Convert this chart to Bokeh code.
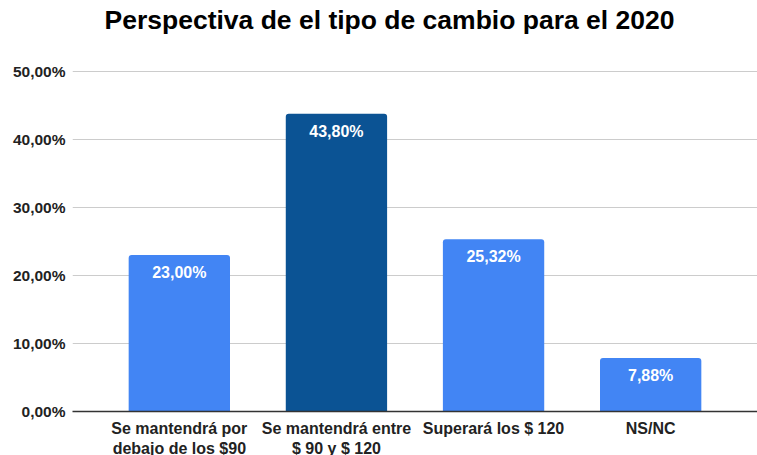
from bokeh.plotting import figure
from bokeh.models import FactorRange, Range1d, FixedTicker, ColumnDataSource, Title
from bokeh.core.properties import value
from bokeh.embed import file_html
from bokeh.resources import INLINE

title_text = "Perspectiva de el tipo de cambio para el 2020"
categories = ["Se mantendrá por\ndebajo de los $90", "Se mantendrá entre\n$ 90 y $ 120",
              "Superará los $ 120", "NS/NC"]
values = [23.00, 43.80, 25.32, 7.88]
bar_labels = ["23,00%", "43,80%", "25,32%", "7,88%"]
colors = ["#4285F4", "#0B5394", "#4285F4", "#4285F4"]
y_ticks = [0, 10, 20, 30, 40, 50]
y_tick_labels = ["0,00%", "10,00%", "20,00%", "30,00%", "40,00%", "50,00%"]

src = ColumnDataSource(dict(cat=categories, val=values, lab=bar_labels, col=colors))

p = figure(width=757, height=459, output_backend="svg", toolbar_location=None, title=None,
           x_range=FactorRange(factors=categories, range_padding=0.18,
                               range_padding_units="absolute"),
           y_range=Range1d(0, 50.3),
           min_border_left=0, min_border_right=0, min_border_top=0, min_border_bottom=40)

# spacer panel (closest to the frame), then the real title above it
p.add_layout(Title(text=" ", text_font_size="10px", standoff=16), "above")
p.add_layout(Title(text=title_text, align="left", offset=32, vertical_align="top",
                   text_font="Liberation Sans", text_font_size="26.5px",
                   text_font_style="bold", text_color="#000000", standoff=8), "above")

p.vbar(x="cat", top="val", width=0.645, fill_color="col", line_color=None,
       border_radius=(3, 3, 0, 0), source=src)
p.text(x="cat", y="val", text="lab", source=src, text_align="center",
       text_baseline="top", y_offset=9, text_color="white",
       text_font=value("Liberation Sans"), text_font_size="16px", text_font_style="bold")

p.outline_line_color = None
p.xgrid.grid_line_color = None
p.ygrid.grid_line_color = "#cccccc"
p.ygrid.ticker = FixedTicker(ticks=y_ticks)
p.yaxis.ticker = FixedTicker(ticks=y_ticks)
p.yaxis.major_label_overrides = {t: l for t, l in zip(y_ticks, y_tick_labels)}
p.yaxis.axis_line_color = None
p.yaxis.major_tick_line_color = None
p.yaxis.minor_tick_line_color = None
p.yaxis.major_label_standoff = 1
p.yaxis.axis_label = " "
p.yaxis.axis_label_text_font_size = "2px"
p.yaxis.axis_label_standoff = 4

p.xaxis.axis_line_color = "#333333"
p.xaxis.axis_line_width = 1.5
p.xaxis.major_tick_line_color = None
p.xaxis.minor_tick_line_color = None
p.xaxis.major_label_standoff = 2

for ax in (p.xaxis, p.yaxis):
    ax.major_label_text_font = "Liberation Sans"
    ax.major_label_text_font_style = "bold"
    ax.major_label_text_color = "#222222"
p.xaxis.major_label_text_font_size = "16px"
p.yaxis.major_label_text_font_size = "15.5px"

open("out.html", "w").write(file_html(p, INLINE))
